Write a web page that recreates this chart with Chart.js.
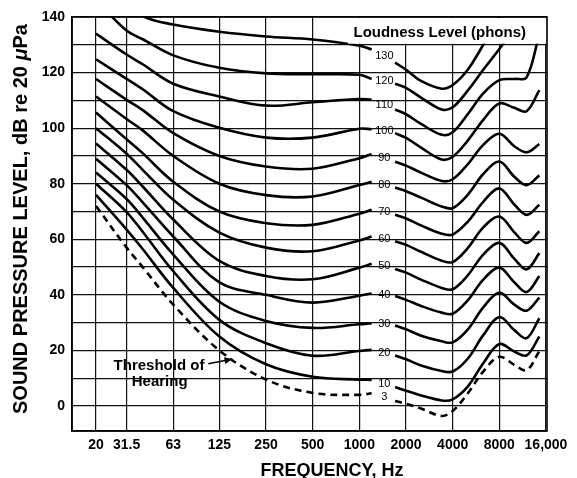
<!DOCTYPE html>
<html>
<head>
<meta charset="utf-8">
<title>Equal loudness contours</title>
<script src="https://cdn.jsdelivr.net/npm/chart.js@4.4.1/dist/chart.umd.min.js"></script>
<style>
  html, body { margin: 0; padding: 0; background: #fff; }
  canvas { display: block; }
</style>
</head>
<body>
<canvas id="myChart" width="577" height="478"></canvas>
<script>
// frequencies (Hz) shared by every contour; 1450 is the gap where the phon labels sit
const freqs = [20, 31.5, 40, 63, 125, 250, 500, 1000, 1200, 1450, 1700, 2000, 2500, 3400, 4000, 5000, 6300, 8000, 10000, 12000, 14500];

const xTicks = [20, 31.5, 63, 125, 250, 500, 1000, 2000, 4000, 8000, 16000];
const yTicks = [0, 10, 20, 30, 40, 50, 60, 70, 80, 90, 100, 110, 120, 130, 140];

// sound pressure level (dB) per contour
const phon130 = [null, 146, 140.3, 137.3, 134.7, 133, 131.9, 129.7, 128.3, null, 123.6, 121, 117, 114.2, 115.5, 121, 130, 140, null, null, null];
const phon120 = [146, 135.1, 132, 126.2, 121.7, 119.7, 119.4, 119.2, 117.7, null, 116, 114.5, 111, 106.7, 107.5, 113.5, 121, 128.5, 136, null, null];
const phon110 = [134, 126.5, 123, 116, 111.4, 108.1, 109.3, 110.5, 110.2, null, 106.7, 105, 101.5, 97.6, 98.5, 105, 112.5, 117.3, 117.7, 118.3, 134];
const phon100 = [124.8, 117.7, 114, 106.1, 100.1, 96.6, 96.6, 99.8, 99.6, null, 98.2, 96.5, 93, 88.7, 89.7, 95.5, 103, 108.9, 107.3, 106.1, 113.7];
const phon90  = [117.7, 110.2, 106.5, 98.2, 90, 86.2, 85.4, 89.2, 90.7, null, 87.9, 86.5, 84, 81, 81.6, 87, 94, 98, 93.5, 91.3, 94.3];
const phon80  = [111.4, 103.3, 99.2, 90, 80, 75.9, 75.4, 79.5, 80.7, null, 78.6, 77.3, 75, 71.8, 71.2, 76, 83.5, 88, 82.5, 79.5, 83];
const phon70  = [105.6, 96, 91, 80.7, 70, 65.8, 65.2, 69.2, 70.6, null, 68.8, 67.5, 65, 62, 61.7, 66.3, 73.5, 78.3, 72.5, 68.8, 72.4];
const phon60  = [100, 90.8, 85, 74.2, 62.4, 57, 55.7, 59.6, 61, null, 59.3, 58, 55.5, 52.3, 51.8, 56.8, 64.3, 68.2, 62.5, 58.7, 62.9];
const phon50  = [94.5, 85, 79, 67.1, 52.2, 46.8, 45.6, 49.8, 51.2, null, 49.3, 48, 45.5, 42.5, 42, 47, 54.5, 58.7, 53, 49.2, 55];
const phon40  = [89, 79.5, 73.3, 61, 44.5, 40, 37.2, 39.7, 40.5, null, 39.6, 38.2, 36, 33.6, 33.2, 38, 45.5, 49.8, 44.5, 41, 46.8];
const phon30  = [84, 74.5, 67.8, 54.5, 37.5, 30.6, 28.1, 29.4, 29.8, null, 29, 27.6, 25.3, 23.3, 22.9, 27.5, 35.5, 40.8, 36.5, 34.3, 39];
const phon20  = [80, 69.8, 62.7, 48.5, 31, 22.6, 18.1, 19.8, 20.2, null, 18.2, 16.8, 14.6, 12.6, 12.4, 17, 25.5, 32, 27.3, 24.4, 31.6];
const phon10  = [76, 63.5, 56.5, 42.5, 25, 15, 10.5, 9.5, 9.4, null, 6.8, 5.5, 3.8, 2, 2.4, 7, 15.4, 22.3, 19.6, 18.2, 25];
const threshold = [72, 57, 50, 36.5, 20, 9.5, 4.7, 4, 4.6, null, 1.8, 0.8, -0.9, -3.6, -1.8, 4.5, 12.4, 17.7, 14.8, 12.9, 19.7];

const curves = [phon130, phon120, phon110, phon100, phon90, phon80, phon70, phon60, phon50, phon40, phon30, phon20, phon10, threshold];
const curveLabels = ['130', '120', '110', '100', '90', '80', '70', '60', '50', '40', '30', '20', '10', '3'];

const FONT = '"Liberation Sans", Arial, Helvetica, sans-serif';
const GAP = freqs.indexOf(1450);

const datasets = curves.map((vals, i) => ({
    data: freqs.map((f, j) => ({ x: f, y: vals[j] })),
    borderColor: '#000',
    borderWidth: 2.6,
    borderDash: i === curves.length - 1 ? [7, 5] : [],
    pointRadius: 0,
    tension: 0.35,
    fill: false
}));

function arrow(ctx, x1, y1, x2, y2) {
    const a = Math.atan2(y2 - y1, x2 - x1);
    ctx.beginPath();
    ctx.moveTo(x1, y1);
    ctx.lineTo(x2 - 5 * Math.cos(a), y2 - 5 * Math.sin(a));
    ctx.stroke();
    ctx.beginPath();
    ctx.moveTo(x2, y2);
    ctx.lineTo(x2 - 8 * Math.cos(a) + 3.5 * Math.sin(a), y2 - 8 * Math.sin(a) - 3.5 * Math.cos(a));
    ctx.lineTo(x2 - 8 * Math.cos(a) - 3.5 * Math.sin(a), y2 - 8 * Math.sin(a) + 3.5 * Math.cos(a));
    ctx.closePath();
    ctx.fill();
}

const overlay = {
    id: 'overlay',
    afterDatasetsDraw(chart) {
        const { ctx, chartArea: a, scales: { x, y } } = chart;
        ctx.save();
        ctx.fillStyle = '#000';
        ctx.strokeStyle = '#000';

        // white label box in the upper right
        const bx = x.getPixelForValue(845);
        const by = y.getPixelForValue(130.4);
        ctx.fillStyle = '#fff';
        ctx.fillRect(bx, a.top + 1, a.right - bx - 1, by - a.top - 1);
        ctx.fillStyle = '#000';
        ctx.font = 'bold 15px ' + FONT;
        ctx.textAlign = 'center';
        ctx.textBaseline = 'middle';
        ctx.fillText('Loudness Level (phons)', x.getPixelForValue(3300), y.getPixelForValue(134.4));

        // phon labels in the gap between left and right parts of each curve
        ctx.font = '11px ' + FONT;
        const lx = x.getPixelForValue(freqs[GAP]);
        curves.forEach((vals, i) => {
            const ly = (y.getPixelForValue(vals[GAP - 1]) + y.getPixelForValue(vals[GAP + 1])) / 2;
            ctx.fillText(curveLabels[i], lx, ly);
        });

        // threshold annotation
        ctx.font = 'bold 15px ' + FONT;
        ctx.fillText('Threshold of', x.getPixelForValue(51), y.getPixelForValue(14.5));
        ctx.fillText('Hearing', x.getPixelForValue(51.5), y.getPixelForValue(8.8));
        ctx.lineWidth = 1.6;
        arrow(ctx, x.getPixelForValue(106), y.getPixelForValue(15.2),
                   x.getPixelForValue(152), y.getPixelForValue(16.9));
        ctx.restore();
    },
    afterDraw(chart) {
        const { ctx, chartArea: a } = chart;
        ctx.save();
        ctx.strokeStyle = '#000';
        ctx.lineWidth = 1.6;
        ctx.strokeRect(a.left, a.top, a.right - a.left, a.bottom - a.top);

        ctx.fillStyle = '#000';
        ctx.textBaseline = 'alphabetic';
        ctx.textAlign = 'center';
        ctx.font = 'bold 18px ' + FONT;
        ctx.fillText('FREQUENCY, Hz', 332, 476);

        // rotated y title with an italic mu
        const p1 = 'SOUND PRESSURE LEVEL, dB re 20 ', p2 = '\u03bc', p3 = 'Pa';
        const fB = 'bold 20px ' + FONT, fI = 'italic bold 20px ' + FONT;
        ctx.font = fB; const w1 = ctx.measureText(p1).width, w3 = ctx.measureText(p3).width;
        ctx.font = fI; const w2 = ctx.measureText(p2).width;
        const total = w1 + w2 + w3;
        ctx.translate(27, 219);
        ctx.rotate(-Math.PI / 2);
        ctx.textAlign = 'left';
        let cx = -total / 2;
        ctx.font = fB; ctx.fillText(p1, cx, 0); cx += w1;
        ctx.font = fI; ctx.fillText(p2, cx, 0); cx += w2;
        ctx.font = fB; ctx.fillText(p3, cx, 0);
        ctx.restore();
    }
};

const ctx = document.getElementById('myChart').getContext('2d');
const myChart = new Chart(ctx, {
    type: 'line',
    data: { datasets: datasets },
    plugins: [overlay],
    options: {
        responsive: false,
        animation: false,
        devicePixelRatio: 1,
        layout: { padding: { top: 17, right: 30, bottom: 0, left: 0 } },
        plugins: {
            legend: { display: false },
            tooltip: { enabled: false }
        },
        scales: {
            x: {
                type: 'logarithmic',
                min: 14,
                max: 16240,
                afterBuildTicks: axis => { axis.ticks = xTicks.map(v => ({ value: v })); },
                afterFit: axis => { axis.height = 47; },
                ticks: {
                    autoSkip: false,
                    maxRotation: 0,
                    padding: 6,
                    color: '#000',
                    font: { family: FONT, size: 14, weight: 'bold' },
                    callback: v => v === 16000 ? '16,000' : String(v)
                },
                grid: { color: '#111', lineWidth: 1.2, drawTicks: false },
                border: { color: '#000', width: 1.6 }
            },
            y: {
                min: -9,
                max: 140,
                afterBuildTicks: axis => { axis.ticks = yTicks.map(v => ({ value: v })); },
                afterFit: axis => { axis.width = 72; },
                ticks: {
                    autoSkip: false,
                    padding: 7,
                    color: '#000',
                    font: { family: FONT, size: 14, weight: 'bold' },
                    callback: v => v % 20 === 0 ? String(v) : ''
                },
                grid: { color: '#111', lineWidth: 1.2, drawTicks: false },
                border: { color: '#000', width: 1.6 }
            }
        }
    }
});
</script>
</body>
</html>
